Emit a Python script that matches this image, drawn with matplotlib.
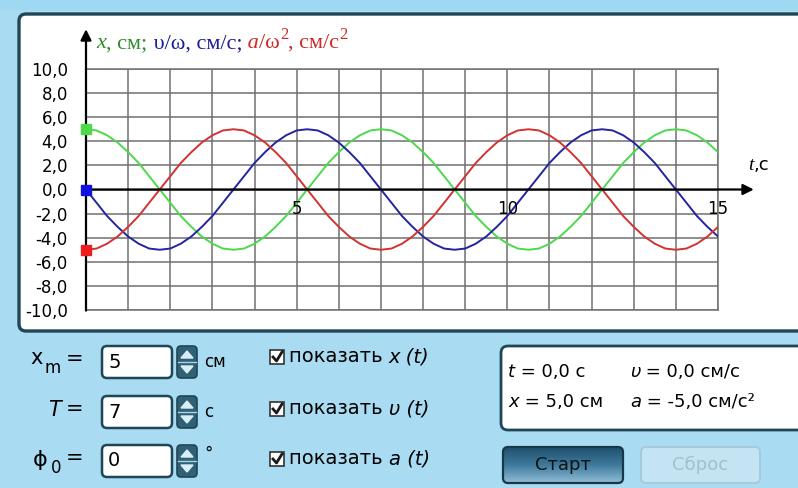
import numpy as np
import matplotlib
matplotlib.use('Agg')
import matplotlib.pyplot as plt
from matplotlib.patches import FancyBboxPatch, Rectangle, Polygon

# values, step 0.25 s from 0 to 15 s
t_s = np.arange(0, 15.01, 0.25)
x_cm = [5.0, 4.9, 4.5, 3.9, 3.1, 2.2, 1.1, 0.0, -1.1, -2.2, -3.1, -3.9, -4.5, -4.9,
        -5.0, -4.9, -4.5, -3.9, -3.1, -2.2, -1.1, 0.0, 1.1, 2.2, 3.1, 3.9, 4.5, 4.9,
        5.0, 4.9, 4.5, 3.9, 3.1, 2.2, 1.1, 0.0, -1.1, -2.2, -3.1, -3.9, -4.5, -4.9,
        -5.0, -4.9, -4.5, -3.9, -3.1, -2.2, -1.1, 0.0, 1.1, 2.2, 3.1, 3.9, 4.5, 4.9,
        5.0, 4.9, 4.5, 3.9, 3.1]
v_w = [0.0, -1.1, -2.2, -3.1, -3.9, -4.5, -4.9, -5.0, -4.9, -4.5, -3.9, -3.1, -2.2, -1.1,
       0.0, 1.1, 2.2, 3.1, 3.9, 4.5, 4.9, 5.0, 4.9, 4.5, 3.9, 3.1, 2.2, 1.1,
       0.0, -1.1, -2.2, -3.1, -3.9, -4.5, -4.9, -5.0, -4.9, -4.5, -3.9, -3.1, -2.2, -1.1,
       0.0, 1.1, 2.2, 3.1, 3.9, 4.5, 4.9, 5.0, 4.9, 4.5, 3.9, 3.1, 2.2, 1.1,
       0.0, -1.1, -2.2, -3.1, -3.9]
a_w2 = [-5.0, -4.9, -4.5, -3.9, -3.1, -2.2, -1.1, 0.0, 1.1, 2.2, 3.1, 3.9, 4.5, 4.9,
        5.0, 4.9, 4.5, 3.9, 3.1, 2.2, 1.1, 0.0, -1.1, -2.2, -3.1, -3.9, -4.5, -4.9,
        -5.0, -4.9, -4.5, -3.9, -3.1, -2.2, -1.1, 0.0, 1.1, 2.2, 3.1, 3.9, 4.5, 4.9,
        5.0, 4.9, 4.5, 3.9, 3.1, 2.2, 1.1, 0.0, -1.1, -2.2, -3.1, -3.9, -4.5, -4.9,
        -5.0, -4.9, -4.5, -3.9, -3.1]

y_ticks = [-10, -8, -6, -4, -2, 0, 2, 4, 6, 8, 10]
y_labels = ['-10,0', '-8,0', '-6,0', '-4,0', '-2,0', '0,0', '2,0', '4,0', '6,0', '8,0', '10,0']
x_marks = [5, 10, 15]

params = [('5', 'см'), ('7', 'с'), ('0', '°')]
show_labels = ['x (t)', 'υ (t)', 'a (t)']

GREEN = '#4cd94c'
BLUE = '#2424a0'
RED = '#d23232'
BORDER = '#1f4656'

fig = plt.figure(figsize=(7.98, 4.88), dpi=100, facecolor='#a9dcf2')

# background / widgets, pixel coordinates
bg = fig.add_axes([0, 0, 1, 1])
bg.set_xlim(0, 798)
bg.set_ylim(488, 0)
bg.axis('off')
bg.add_patch(Rectangle((0, 0), 798, 9, color='#9fd8f1', zorder=0))
bg.add_patch(FancyBboxPatch((19, 14), 790, 317, boxstyle='round,pad=0,rounding_size=7',
                            facecolor='white', edgecolor=BORDER, lw=2.4))

rows = [362, 412, 461]
# left labels
bg.text(30, 358, 'x', fontsize=15, va='center', family='DejaVu Sans')
bg.text(45, 368, 'm', fontsize=12, va='center', family='DejaVu Sans')
bg.text(48, 410, 'T', fontsize=15, va='center', style='italic', family='DejaVu Sans')
bg.text(33, 460, 'ϕ', fontsize=16, va='center', family='DejaVu Sans')
bg.text(51, 468, '0', fontsize=12, va='center', family='DejaVu Sans')
for yc in rows:
    bg.text(66, yc - 3, '=', fontsize=15, va='center', family='DejaVu Sans')

for (val, unit), yc in zip(params, rows):
    bg.add_patch(FancyBboxPatch((102, yc - 16), 70, 32, boxstyle='round,pad=0,rounding_size=5',
                                facecolor='white', edgecolor=BORDER, lw=1.8))
    bg.text(108, yc, val, fontsize=14, va='center', family='DejaVu Sans')
    bg.add_patch(FancyBboxPatch((177, yc - 16), 20, 32, boxstyle='round,pad=0,rounding_size=4',
                                facecolor='#2f6075', edgecolor=BORDER, lw=1.2))
    bg.plot([178, 196], [yc, yc], color='#a9d4e4', lw=1)
    bg.add_patch(Polygon([[181, yc - 4], [193, yc - 4], [187, yc - 11]], color='#d9eef6'))
    bg.add_patch(Polygon([[181, yc + 4], [193, yc + 4], [187, yc + 11]], color='#d9eef6'))
    if unit == '°':
        bg.text(204, yc - 7, unit, fontsize=12, va='center', family='DejaVu Sans')
    else:
        bg.text(204, yc, unit, fontsize=12, va='center', family='DejaVu Sans')

for lab, yc in zip(show_labels, [357, 409, 459]):
    bg.add_patch(Rectangle((270, yc - 7), 14, 14, facecolor='white', edgecolor='#333333', lw=1.2))
    bg.plot([273, 276.5, 282], [yc, yc + 4, yc - 5], color='#1a1a1a', lw=2)
    t1 = bg.text(289, yc, 'показать ', fontsize=14, va='center', family='DejaVu Sans')
    bg.annotate(lab, xy=(1, 0.5), xycoords=t1, va='center', fontsize=14,
                style='italic', family='DejaVu Sans')

# info box
bg.add_patch(FancyBboxPatch((501, 346), 310, 84, boxstyle='round,pad=0,rounding_size=7',
                            facecolor='white', edgecolor=BORDER, lw=2))
info = [(508, 372, 't', ' = 0,0 с'), (630, 372, 'υ', ' = 0,0 см/с'),
        (508, 402, 'x', ' = 5,0 см'), (630, 402, 'a', ' = -5,0 см/с²')]
for xi, yi, sym, rest in info:
    s = bg.text(xi, yi, sym, fontsize=13, va='center', style='italic', family='DejaVu Sans')
    bg.annotate(rest, xy=(1, 0.5), xycoords=s, va='center', fontsize=13, family='DejaVu Sans')

# buttons
start = FancyBboxPatch((503, 447), 120, 36, boxstyle='round,pad=0,rounding_size=5',
                       facecolor='none', edgecolor='#17384a', lw=1.6, zorder=3)
bg.add_patch(start)
grad = np.linspace(0, 1, 50).reshape(-1, 1)
img = bg.imshow(grad, cmap=matplotlib.colors.LinearSegmentedColormap.from_list(
    'b', ['#8fbdd6', '#3f7a9c', '#1f506c']), extent=(503, 623, 447, 483), aspect='auto', zorder=2)
img.set_clip_path(start)
bg.set_xlim(0, 798)
bg.set_ylim(488, 0)
bg.text(563, 465, 'Старт', fontsize=13, ha='center', va='center', color='#111111',
        family='DejaVu Sans', zorder=4)
bg.add_patch(FancyBboxPatch((641, 447), 119, 36, boxstyle='round,pad=0,rounding_size=5',
                            facecolor='#c4e4f3', edgecolor='#a3cbdc', lw=1.4))
bg.text(700, 465, 'Сброс', fontsize=13, ha='center', va='center', color='#a3bfcc',
        family='DejaVu Sans')

# plot area
ax = fig.add_axes([86 / 798, 1 - 310 / 488, 632 / 798, 241 / 488])
ax.patch.set_alpha(0)
ax.set_xlim(0, 15)
ax.set_ylim(-10, 10)
ax.set_xticks(range(16))
ax.set_yticks(y_ticks)
ax.set_yticklabels(y_labels, fontsize=12, family='DejaVu Sans')
ax.set_xticklabels([])
ax.tick_params(length=0, pad=13)
ax.grid(True, color='#707070', lw=1.1)
for sp in ax.spines.values():
    sp.set_color('#707070')
    sp.set_linewidth(1.1)
ax.spines['left'].set_visible(False)

ax.plot(t_s, x_cm, color=GREEN, lw=1.4, zorder=3)
ax.plot(t_s, v_w, color=BLUE, lw=1.4, zorder=3)
ax.plot(t_s, a_w2, color=RED, lw=1.4, zorder=3)
ax.plot(t_s[0], x_cm[0], 's', color=GREEN, ms=6.5, zorder=4, clip_on=False)
ax.plot(t_s[0], v_w[0], 's', color='#1010e0', ms=6.5, zorder=4, clip_on=False)
ax.plot(t_s[0], a_w2[0], 's', color='#ee1c1c', ms=6.5, zorder=4, clip_on=False)

ax.annotate('', xy=(0, 13.3), xytext=(0, -10.05), annotation_clip=False,
            arrowprops=dict(arrowstyle='-|>', color='black', lw=1.6, mutation_scale=16,
                            shrinkA=0, shrinkB=0))
ax.annotate('', xy=(15.85, 0), xytext=(0, 0), annotation_clip=False,
            arrowprops=dict(arrowstyle='-|>', color='black', lw=1.6, mutation_scale=16,
                            shrinkA=0, shrinkB=0))
for xm in x_marks:
    ax.text(xm, -1.6, str(xm), fontsize=12, ha='center', va='center', family='DejaVu Sans')

tl = ax.text(15.72, 1.6, 't', fontsize=14, style='italic', family='Liberation Serif')
ax.annotate(',c', xy=(1, 0), xycoords=tl, va='bottom', fontsize=13, family='DejaVu Sans')

# axis caption: (text, colour, style, vertical shift in points)
parts = [('x', '#2e8e2e', 'italic', 0), (', см;', '#2e8e2e', 'normal', 0),
         (' υ/ω, см/с;', '#1c1c9a', 'normal', 0), (' a', '#cc2a2a', 'italic', 0),
         ('/ω', '#cc2a2a', 'normal', 0), ('2', '#cc2a2a', 'normal', 7),
         (', см/с', '#cc2a2a', 'normal', -7), ('2', '#cc2a2a', 'normal', 7)]
prev = ax.text(0.25, 11.75, parts[0][0], color=parts[0][1], style=parts[0][2], fontsize=16,
               family='Liberation Serif', va='baseline')
for s, c, st, dy in parts[1:]:
    size = 12 if dy > 0 else 16
    prev = ax.annotate(s, xy=(1, 0), xycoords=prev, xytext=(0, dy), textcoords='offset points',
                       va='bottom', color=c, style=st, fontsize=size, family='Liberation Serif')

fig.savefig('out.png', dpi=100, facecolor=fig.get_facecolor())
